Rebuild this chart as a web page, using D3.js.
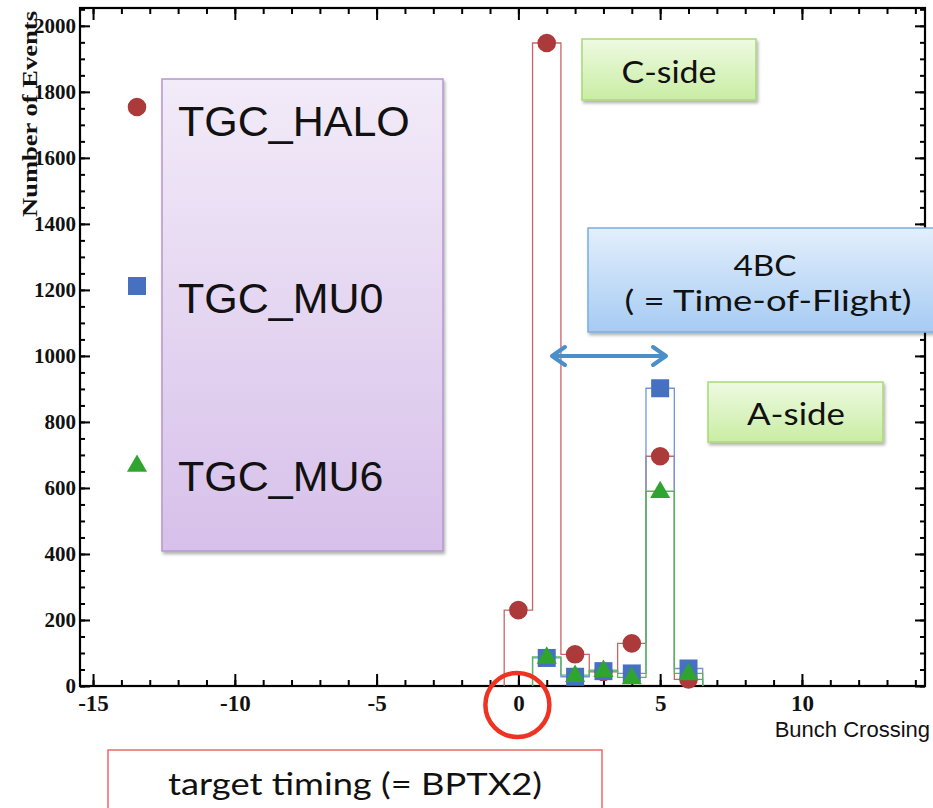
<!DOCTYPE html>
<html>
<head>
<meta charset="utf-8">
<script src="https://cdn.jsdelivr.net/npm/d3@7"></script>
<style>
  html, body { margin: 0; padding: 0; background: #fff; }
  svg { display: block; }
</style>
</head>
<body>
<svg id="chart" width="933" height="808"></svg>
<script>
// ---- data ----
const bins = [0, 1, 2, 3, 4, 5, 6];
const haloValues = [230, 1948, 96, 43, 129, 696, 20];
const mu0Values  = [0, 85, 28, 45, 38, 902, 53];
const mu6Values  = [0, 88, 33, 48, 26, 590, 38];
const seriesNames = ["TGC_HALO", "TGC_MU0", "TGC_MU6"];
const xTickValues = [-15, -10, -5, 0, 5, 10];
const yTickValues = [0, 200, 400, 600, 800, 1000, 1200, 1400, 1600, 1800, 2000];
const xTitle = "Bunch Crossing";
const yTitle = "Number of Events";
const notes = { cside: "C-side", aside: "A-side", tof1: "4BC", tof2: "( = Time-of-Flight)", target: "target timing (= BPTX2)" };

// ---- layout ----
const svg = d3.select("#chart");
const L = 80, R = 925, T = 8, B = 686;
const x = d3.scaleLinear().domain([-15.46, 14.34]).range([L, R]);
const y = d3.scaleLinear().domain([0, 2054]).range([B, T]);

const defs = svg.append("defs");
function grad(id, c1, c2) {
  const g = defs.append("linearGradient").attr("id", id).attr("x1", 0).attr("y1", 0).attr("x2", 0).attr("y2", 1);
  g.append("stop").attr("offset", "0%").attr("stop-color", c1);
  g.append("stop").attr("offset", "100%").attr("stop-color", c2);
}
grad("gPurple", "#f2ebf8", "#d7c0ea");
grad("gGreen", "#eefae2", "#c9eda3");
grad("gBlue", "#e3effc", "#a6cbf3");
const f = defs.append("filter").attr("id", "shadow").attr("x", "-10%").attr("y", "-10%").attr("width", "130%").attr("height", "140%");
f.append("feDropShadow").attr("dx", 1.5).attr("dy", 2.5).attr("stdDeviation", 1.8).attr("flood-color", "#000").attr("flood-opacity", 0.3);

// ---- axes ----
const axG = svg.append("g");
const font = "'Liberation Serif', 'Times New Roman', serif";
const fmt = d => String(d);

function styleAxis(g) {
  g.select(".domain").remove();
  g.selectAll("line").attr("stroke", "#000").attr("stroke-width", 2);
  g.selectAll("text").attr("font-family", font).attr("font-weight", "bold").attr("fill", "#111");
}
// minor ticks
const xMinor = d3.range(-15, 15, 1);
const yMinor = d3.range(0, 2051, 50);
axG.append("g").attr("transform", `translate(0,${B})`)
  .call(d3.axisBottom(x).tickValues(xMinor).tickSize(-6).tickFormat("")).call(styleAxis);
axG.append("g").attr("transform", `translate(0,${T})`)
  .call(d3.axisTop(x).tickValues(xMinor).tickSize(-6).tickFormat("")).call(styleAxis);
axG.append("g").attr("transform", `translate(${L},0)`)
  .call(d3.axisLeft(y).tickValues(yMinor).tickSize(-5).tickFormat("")).call(styleAxis);
axG.append("g").attr("transform", `translate(${R},0)`)
  .call(d3.axisRight(y).tickValues(yMinor).tickSize(-5).tickFormat("")).call(styleAxis);
// major ticks
axG.append("g").attr("transform", `translate(0,${B})`)
  .call(d3.axisBottom(x).tickValues(xTickValues).tickSize(-12).tickPadding(9).tickFormat(fmt))
  .call(styleAxis)
  .call(g => g.selectAll("text").attr("font-size", 23));
axG.append("g").attr("transform", `translate(0,${T})`)
  .call(d3.axisTop(x).tickValues(xTickValues).tickSize(-12).tickFormat("")).call(styleAxis);
axG.append("g").attr("transform", `translate(${L},0)`)
  .call(d3.axisLeft(y).tickValues(yTickValues).tickSize(-10).tickPadding(4).tickFormat(fmt))
  .call(styleAxis)
  .call(g => g.selectAll("text").attr("font-size", 21));
axG.append("g").attr("transform", `translate(${R},0)`)
  .call(d3.axisRight(y).tickValues(yTickValues).tickSize(-10).tickFormat("")).call(styleAxis);
// frame
axG.append("rect").attr("x", L).attr("y", T).attr("width", R - L).attr("height", B - T)
  .attr("fill", "none").attr("stroke", "#000").attr("stroke-width", 2.2);

// axis titles
svg.append("text").attr("transform", `translate(37,${T + 3}) rotate(-90)`)
  .attr("text-anchor", "end").attr("font-family", font).attr("font-weight", "bold")
  .attr("font-size", 21).attr("textLength", 206).attr("lengthAdjust", "spacingAndGlyphs")
  .attr("fill", "#111").text(yTitle);
svg.append("text").attr("x", 930).attr("y", 737).attr("text-anchor", "end")
  .attr("font-family", "'Liberation Sans', Arial, sans-serif").attr("font-size", 22)
  .attr("fill", "#111").text(xTitle);

// ---- histograms ----
const series = [
  { name: seriesNames[0], values: haloValues, line: "#cc6466", mark: "#ad3a3a", shape: "circle" },
  { name: seriesNames[1], values: mu0Values,  line: "#7394d6", mark: "#4670c0", shape: "square" },
  { name: seriesNames[2], values: mu6Values,  line: "#55b955", mark: "#2fa52f", shape: "triangle" }
];
function stepPoints(vals) {
  const pts = [];
  const first = vals.findIndex(v => v > 0);
  const last = vals.length - 1;
  pts.push([bins[first] - 0.5, 0]);
  for (let i = first; i <= last; i++) {
    pts.push([bins[i] - 0.5, vals[i]]);
    pts.push([bins[i] + 0.5, vals[i]]);
  }
  pts.push([bins[last] + 0.5, 0]);
  return pts;
}
const line = d3.line().x(d => x(d[0])).y(d => y(d[1]));
const histG = svg.append("g");
series.forEach(s => {
  histG.append("path").attr("d", line(stepPoints(s.values)))
    .attr("fill", "none").attr("stroke", s.line).attr("stroke-width", 1.3);
});
const symbolFor = {
  circle: d3.symbol().type(d3.symbolCircle).size(Math.PI * 9.3 * 9.3),
  square: d3.symbol().type(d3.symbolSquare).size(18 * 18),
  triangle: d3.symbol().type(d3.symbolTriangle).size(175)
};
const markG = svg.append("g");
series.forEach(s => {
  markG.selectAll(null).data(bins.map((b, i) => ({ b, v: s.values[i] })).filter(d => d.v > 0))
    .enter().append("path")
    .attr("d", symbolFor[s.shape])
    .attr("transform", d => `translate(${x(d.b)},${y(d.v) + (s.shape === "triangle" ? 1 : 0)})`)
    .attr("fill", s.mark);
});

// ---- legend box ----
const legG = svg.append("g");
legG.append("rect").attr("x", 162).attr("y", 79).attr("width", 281).attr("height", 472)
  .attr("fill", "url(#gPurple)").attr("stroke", "#b596d0").attr("stroke-width", 1.5)
  .attr("filter", "url(#shadow)");
const legY = [107, 286, 466];
const legBase = [136, 313, 491];
series.forEach((s, i) => {
  legG.append("path").attr("d", symbolFor[s.shape]).attr("transform", `translate(137,${legY[i]})`).attr("fill", s.mark);
  legG.append("text").attr("x", 178).attr("y", legBase[i])
    .attr("font-family", "'Liberation Sans', Arial, sans-serif").attr("font-size", 43)
    .attr("fill", "#111").text(s.name);
});

// ---- annotations ----
const aFont = "Lato, 'Open Sans', sans-serif";
const annG = svg.append("g");
function box(x0, y0, w, h, fill, stroke, lines) {
  annG.append("rect").attr("x", x0).attr("y", y0).attr("width", w).attr("height", h)
    .attr("fill", fill).attr("stroke", stroke).attr("stroke-width", 1.5).attr("filter", "url(#shadow)");
  lines.forEach(l => annG.append("text").attr("x", l.x).attr("y", l.y).attr("text-anchor", "middle")
    .attr("font-family", aFont).attr("font-size", l.size).attr("fill", "#111")
    .attr("textLength", l.w).attr("lengthAdjust", "spacingAndGlyphs").text(l.t));
}
box(582, 39, 174, 61, "url(#gGreen)", "#a9d77a", [{ x: 669, y: 83, size: 31, w: 95, t: notes.cside }]);
box(588, 228, 352, 104, "url(#gBlue)", "#7aaedf", [
  { x: 765, y: 276, size: 28, w: 63, t: notes.tof1 },
  { x: 768, y: 311, size: 28, w: 287, t: notes.tof2 }]);
box(708, 382, 175, 60, "url(#gGreen)", "#a9d77a", [{ x: 796, y: 425, size: 31, w: 98, t: notes.aside }]);

// double arrow
const ax0 = 551, ax1 = 667, ay = 356;
annG.append("line").attr("x1", ax0 + 4).attr("x2", ax1 - 4).attr("y1", ay).attr("y2", ay)
  .attr("stroke", "#4b8fc9").attr("stroke-width", 4);
annG.append("path").attr("d", `M${ax0 + 14},${ay - 9} L${ax0 + 1},${ay} L${ax0 + 14},${ay + 9}`)
  .attr("fill", "none").attr("stroke", "#4b8fc9").attr("stroke-width", 4).attr("stroke-linecap", "round").attr("stroke-linejoin", "round");
annG.append("path").attr("d", `M${ax1 - 14},${ay - 9} L${ax1 - 1},${ay} L${ax1 - 14},${ay + 9}`)
  .attr("fill", "none").attr("stroke", "#4b8fc9").attr("stroke-width", 4).attr("stroke-linecap", "round").attr("stroke-linejoin", "round");

// red circle around 0
annG.append("circle").attr("cx", x(0) - 1).attr("cy", 705).attr("r", 32)
  .attr("fill", "none").attr("stroke", "#ee3322").attr("stroke-width", 4.5);

// bottom box
annG.append("rect").attr("x", 108).attr("y", 750).attr("width", 494).attr("height", 80)
  .attr("fill", "#fff").attr("stroke", "#f06868").attr("stroke-width", 1.5);
annG.append("text").attr("x", 355).attr("y", 795).attr("text-anchor", "middle")
  .attr("font-family", aFont).attr("font-size", 30).attr("fill", "#111")
  .attr("textLength", 374).attr("lengthAdjust", "spacingAndGlyphs").text(notes.target);
</script>
</body>
</html>
